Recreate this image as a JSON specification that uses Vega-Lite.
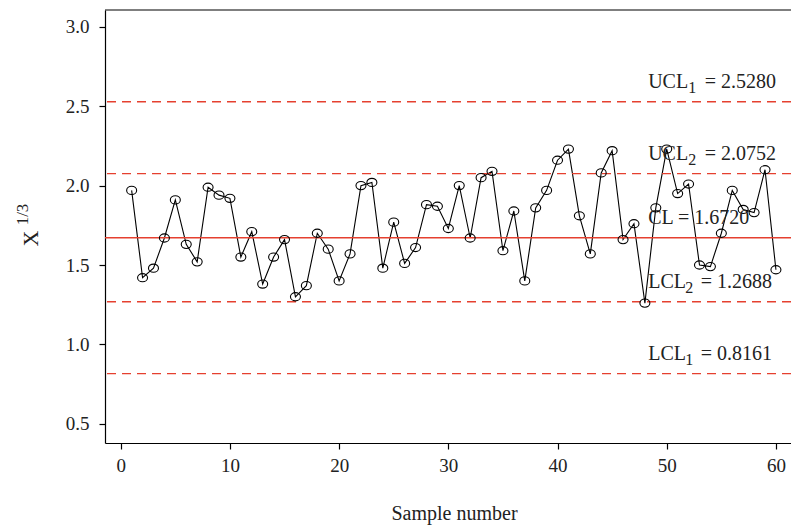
{
  "$schema": "https://vega.github.io/schema/vega-lite/v6.json",
  "width": 686,
  "height": 433,
  "autosize": {"type": "none"},
  "padding": {"left": 105, "top": 10, "right": 0, "bottom": 83},
  "background": "white",
  "config": {
    "view": {"stroke": null},
    "font": "Liberation Serif",
    "axis": {
      "domainColor": "black", "domainWidth": 1.2,
      "tickColor": "black", "tickWidth": 1.2, "tickSize": 6,
      "labelFont": "Liberation Serif", "labelFontSize": 19, "labelColor": "#222",
      "titleFont": "Liberation Serif", "titleFontWeight": "normal", "titleColor": "#222",
      "grid": false
    },
    "text": {"font": "Liberation Serif", "color": "#222"}
  },
  "datasets": {
    "samples": [
      {"sample": 1, "value": 1.97}, {"sample": 2, "value": 1.42}, {"sample": 3, "value": 1.48},
      {"sample": 4, "value": 1.67}, {"sample": 5, "value": 1.91}, {"sample": 6, "value": 1.63},
      {"sample": 7, "value": 1.52}, {"sample": 8, "value": 1.99}, {"sample": 9, "value": 1.94},
      {"sample": 10, "value": 1.92}, {"sample": 11, "value": 1.55}, {"sample": 12, "value": 1.71},
      {"sample": 13, "value": 1.38}, {"sample": 14, "value": 1.55}, {"sample": 15, "value": 1.66},
      {"sample": 16, "value": 1.30}, {"sample": 17, "value": 1.37}, {"sample": 18, "value": 1.70},
      {"sample": 19, "value": 1.60}, {"sample": 20, "value": 1.40}, {"sample": 21, "value": 1.57},
      {"sample": 22, "value": 2.00}, {"sample": 23, "value": 2.02}, {"sample": 24, "value": 1.48},
      {"sample": 25, "value": 1.77}, {"sample": 26, "value": 1.51}, {"sample": 27, "value": 1.61},
      {"sample": 28, "value": 1.88}, {"sample": 29, "value": 1.87}, {"sample": 30, "value": 1.73},
      {"sample": 31, "value": 2.00}, {"sample": 32, "value": 1.67}, {"sample": 33, "value": 2.05},
      {"sample": 34, "value": 2.09}, {"sample": 35, "value": 1.59}, {"sample": 36, "value": 1.84},
      {"sample": 37, "value": 1.40}, {"sample": 38, "value": 1.86}, {"sample": 39, "value": 1.97},
      {"sample": 40, "value": 2.16}, {"sample": 41, "value": 2.23}, {"sample": 42, "value": 1.81},
      {"sample": 43, "value": 1.57}, {"sample": 44, "value": 2.08}, {"sample": 45, "value": 2.22},
      {"sample": 46, "value": 1.66}, {"sample": 47, "value": 1.76}, {"sample": 48, "value": 1.26},
      {"sample": 49, "value": 1.86}, {"sample": 50, "value": 2.23}, {"sample": 51, "value": 1.95},
      {"sample": 52, "value": 2.01}, {"sample": 53, "value": 1.50}, {"sample": 54, "value": 1.49},
      {"sample": 55, "value": 1.70}, {"sample": 56, "value": 1.97}, {"sample": 57, "value": 1.85},
      {"sample": 58, "value": 1.83}, {"sample": 59, "value": 2.10}, {"sample": 60, "value": 1.47}
    ],
    "limits": [
      {"name": "UCL", "sub": "1", "rest": "= 2.5280", "limit": 2.528, "kind": "dashed"},
      {"name": "UCL", "sub": "2", "rest": "= 2.0752", "limit": 2.0752, "kind": "dashed"},
      {"name": "CL = 1.6720", "sub": "", "rest": "", "limit": 1.672, "kind": "solid"},
      {"name": "LCL", "sub": "2", "rest": "= 1.2688", "limit": 1.2688, "kind": "dashed"},
      {"name": "LCL", "sub": "1", "rest": "= 0.8161", "limit": 0.8161, "kind": "dashed"}
    ]
  },
  "layer": [
    {
      "data": {"name": "samples"},
      "mark": {"type": "line", "color": "black", "strokeWidth": 1.1},
      "encoding": {
        "x": {"field": "sample", "type": "quantitative",
              "scale": {"domain": [-1.44, 61.38], "nice": false, "zero": false},
              "axis": {"values": [0, 10, 20, 30, 40, 50, 60], "labelPadding": 7,
                       "title": "Sample number", "titleFontSize": 20, "titlePadding": 28,
                       "titleX": 349, "titleAlign": "center", "titleFontWeight": "normal"}},
        "y": {"field": "value", "type": "quantitative",
              "scale": {"domain": [0.379, 3.106], "nice": false, "zero": false},
              "axis": {"orient": "left", "values": [0.5, 1.0, 1.5, 2.0, 2.5, 3.0], "format": ".1f",
                       "labelPadding": 10, "title": "X", "titleFontSize": 22, "titleAngle": 270,
                       "titleFontWeight": "normal",
                       "titleX": -68, "titleY": 228, "titleBaseline": "alphabetic", "titleAlign": "center"}}
      }
    },
    {
      "data": {"name": "limits"},
      "transform": [{"filter": "datum.kind === 'dashed'"}],
      "mark": {"type": "rule", "color": "#e5402f", "strokeWidth": 1.4, "strokeDash": [9, 6]},
      "encoding": {
        "y": {"field": "limit", "type": "quantitative", "axis": null}
      }
    },
    {
      "data": {"name": "limits"},
      "transform": [{"filter": "datum.kind === 'solid'"}],
      "mark": {"type": "rule", "color": "#e5402f", "strokeWidth": 1.4},
      "encoding": {
        "y": {"field": "limit", "type": "quantitative", "axis": null}
      }
    },
    {
      "data": {"values": [{"edge": 3.106}]},
      "mark": {"type": "rule", "color": "black", "strokeWidth": 1.2},
      "encoding": {
        "y": {"field": "edge", "type": "quantitative", "axis": null}
      }
    },
    {
      "data": {"name": "samples"},
      "mark": {"type": "point", "filled": false, "stroke": "black", "strokeWidth": 1.1, "opacity": 1,
               "size": 100, "shape": "M -1 0 A 1 0.82 0 1 0 1 0 A 1 0.82 0 1 0 -1 0 Z"},
      "encoding": {
        "x": {"field": "sample", "type": "quantitative"},
        "y": {"field": "value", "type": "quantitative",
              "axis": {"orient": "left", "labels": false, "ticks": false, "domain": false,
                       "title": "1/3", "titleFontSize": 17, "titleAngle": 270, "titleFontWeight": "normal",
                       "titleX": -78, "titleY": 204, "titleBaseline": "alphabetic", "titleAlign": "center"}}
      }
    },
    {
      "data": {"name": "limits"},
      "mark": {"type": "text", "align": "left", "baseline": "alphabetic", "fontSize": 20, "dy": -13.5},
      "encoding": {
        "x": {"datum": 48.3, "type": "quantitative"},
        "y": {"field": "limit", "type": "quantitative", "axis": null},
        "text": {"field": "name"}
      }
    },
    {
      "data": {"name": "limits"},
      "transform": [{"filter": "datum.name === 'UCL'"}],
      "mark": {"type": "text", "align": "left", "baseline": "alphabetic", "fontSize": 16, "dx": 40, "dy": -9},
      "encoding": {
        "x": {"datum": 48.3, "type": "quantitative"},
        "y": {"field": "limit", "type": "quantitative", "axis": null},
        "text": {"field": "sub"}
      }
    },
    {
      "data": {"name": "limits"},
      "transform": [{"filter": "datum.name === 'LCL'"}],
      "mark": {"type": "text", "align": "left", "baseline": "alphabetic", "fontSize": 16, "dx": 37, "dy": -9},
      "encoding": {
        "x": {"datum": 48.3, "type": "quantitative"},
        "y": {"field": "limit", "type": "quantitative", "axis": null},
        "text": {"field": "sub"}
      }
    },
    {
      "data": {"name": "limits"},
      "transform": [{"filter": "datum.name === 'UCL'"}],
      "mark": {"type": "text", "align": "left", "baseline": "alphabetic", "fontSize": 20, "dx": 56.5, "dy": -13.5},
      "encoding": {
        "x": {"datum": 48.3, "type": "quantitative"},
        "y": {"field": "limit", "type": "quantitative", "axis": null},
        "text": {"field": "rest"}
      }
    },
    {
      "data": {"name": "limits"},
      "transform": [{"filter": "datum.name === 'LCL'"}],
      "mark": {"type": "text", "align": "left", "baseline": "alphabetic", "fontSize": 20, "dx": 52.5, "dy": -13.5},
      "encoding": {
        "x": {"datum": 48.3, "type": "quantitative"},
        "y": {"field": "limit", "type": "quantitative", "axis": null},
        "text": {"field": "rest"}
      }
    }
  ],
  "resolve": {"axis": {"y": "independent"}}
}
